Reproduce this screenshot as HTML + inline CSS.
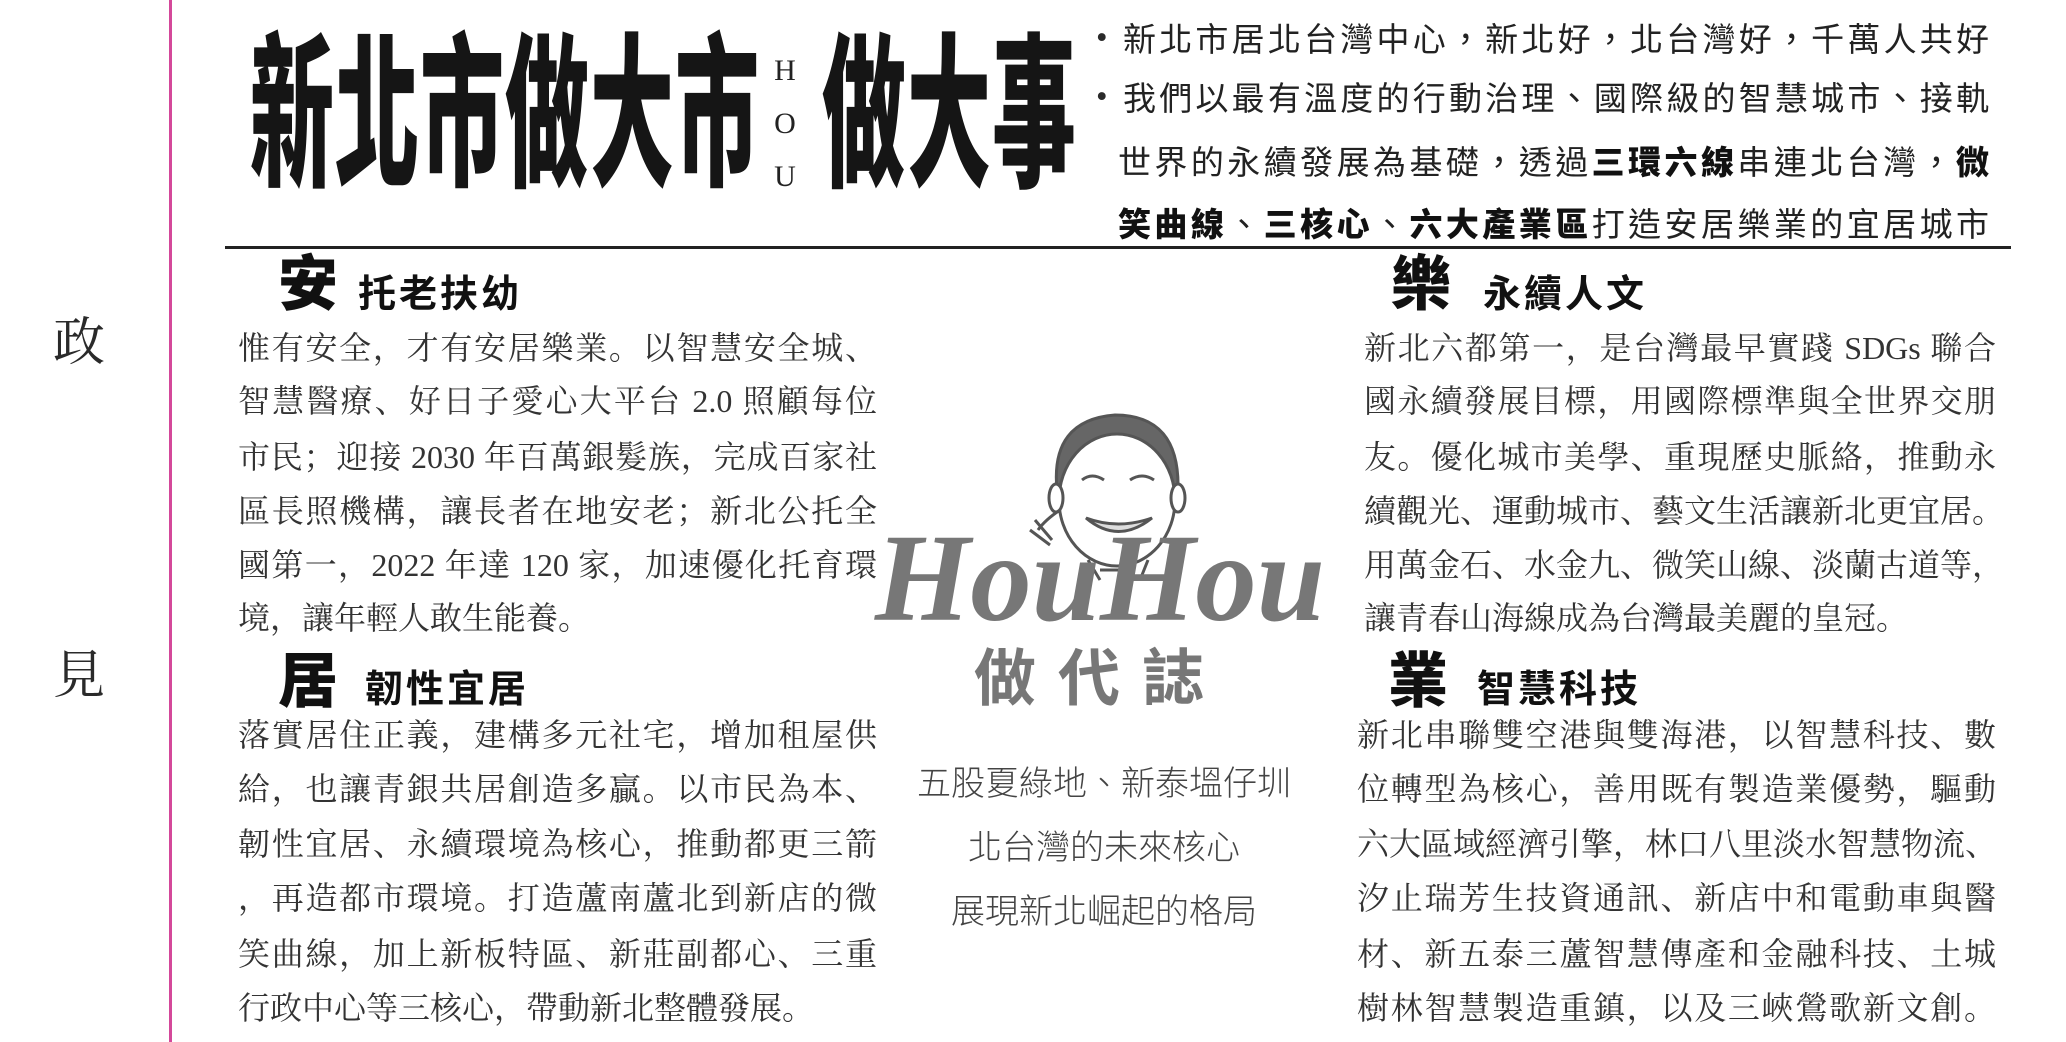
<!DOCTYPE html>
<html><head><meta charset="utf-8">
<style>
html,body{margin:0;padding:0;background:#fff;}
body{width:2066px;height:1042px;position:relative;overflow:hidden;font-family:"Liberation Serif","Noto Serif CJK SC",serif;color:#2a2a2a;}
.a{position:absolute;white-space:nowrap;}
.ln{position:absolute;font-size:32px;line-height:40px;text-align:justify;text-align-last:justify;white-space:nowrap;color:#333;}
.ln.last{text-align-last:left;}
.hd{position:absolute;font-family:"Liberation Sans","Noto Sans CJK TC",sans-serif;font-weight:900;color:#111;font-size:60px;line-height:60px;}
.sub{position:absolute;font-family:"Liberation Sans","Noto Sans CJK TC",sans-serif;font-weight:700;color:#111;font-size:38px;line-height:40px;letter-spacing:3px;}
.title{position:absolute;font-family:"Liberation Sans","Noto Sans CJK TC",sans-serif;font-weight:900;font-size:84px;line-height:84px;transform:scaleY(1.98);transform-origin:0 0;color:#151515;white-space:nowrap;}
.bl{position:absolute;font-size:33px;line-height:40px;text-align:justify;text-align-last:justify;white-space:nowrap;color:#222;font-family:"Liberation Sans","Noto Sans CJK TC",sans-serif;}
.bl b{font-weight:900;color:#111;}
.c{position:absolute;font-size:34px;line-height:40px;color:#444;text-align:center;width:500px;left:854px;font-family:"Liberation Sans","Noto Sans CJK TC",sans-serif;font-weight:300;}
</style></head><body>
<div class="a" style="left:169px;top:0;width:3px;height:1042px;background:#d4489a;"></div>
<div class="a" style="left:53px;top:300px;font-size:52px;">政</div>
<div class="a" style="left:53px;top:633px;font-size:52px;">見</div>

<div class="title" style="left:250px;top:33px;letter-spacing:1px;">新北市做大市</div>
<div class="a" style="left:772px;top:44px;width:26px;font-size:30px;line-height:53px;text-align:center;font-family:'Liberation Serif',serif;color:#222;">H<br>O<br>U</div>
<div class="title" style="left:822px;top:33px;letter-spacing:1px;">做大事</div>

<div class="a" style="left:1096px;top:20px;font-size:33px;">•</div>
<div class="bl" style="left:1123px;top:20px;width:866px;">新北市居北台灣中心，新北好，北台灣好，千萬人共好</div>
<div class="a" style="left:1096px;top:79px;font-size:33px;">•</div>
<div class="bl" style="left:1123px;top:79px;width:866px;">我們以最有溫度的行動治理、國際級的智慧城市、接軌</div>
<div class="bl" style="left:1118px;top:143px;width:871px;">世界的永續發展為基礎，透過<b>三環六線</b>串連北台灣，<b>微</b></div>
<div class="bl" style="left:1118px;top:205px;width:871px;"><b>笑曲線</b>、<b>三核心</b>、<b>六大產業區</b>打造安居樂業的宜居城市</div>

<div class="a" style="left:225px;top:246px;width:1786px;height:3px;background:#222;"></div>

<div class="hd" style="left:278px;top:255px;">安</div>
<div class="sub" style="left:358px;top:275px;">托老扶幼</div>
<div class="ln" style="left:238px;top:328px;width:639px;">惟有安全，才有安居樂業。以智慧安全城、</div>
<div class="ln" style="left:238px;top:381px;width:639px;">智慧醫療、好日子愛心大平台 2.0 照顧每位</div>
<div class="ln" style="left:238px;top:437px;width:639px;">市民；迎接 2030 年百萬銀髮族，完成百家社</div>
<div class="ln" style="left:238px;top:491px;width:639px;">區長照機構，讓長者在地安老；新北公托全</div>
<div class="ln" style="left:238px;top:545px;width:639px;">國第一，2022 年達 120 家，加速優化托育環</div>
<div class="ln last" style="left:238px;top:598px;width:639px;">境，讓年輕人敢生能養。</div>

<div class="hd" style="left:278px;top:652px;">居</div>
<div class="sub" style="left:365px;top:670px;">韌性宜居</div>
<div class="ln" style="left:238px;top:715px;width:639px;">落實居住正義，建構多元社宅，增加租屋供</div>
<div class="ln" style="left:238px;top:769px;width:639px;">給，也讓青銀共居創造多贏。以市民為本、</div>
<div class="ln" style="left:238px;top:824px;width:639px;">韌性宜居、永續環境為核心，推動都更三箭</div>
<div class="ln" style="left:238px;top:878px;width:639px;">，再造都市環境。打造蘆南蘆北到新店的微</div>
<div class="ln" style="left:238px;top:934px;width:639px;">笑曲線，加上新板特區、新莊副都心、三重</div>
<div class="ln last" style="left:238px;top:988px;width:639px;">行政中心等三核心，帶動新北整體發展。</div>

<div class="hd" style="left:1391px;top:255px;">樂</div>
<div class="sub" style="left:1483px;top:275px;">永續人文</div>
<div class="ln" style="left:1364px;top:328px;width:632px;">新北六都第一，是台灣最早實踐 SDGs 聯合</div>
<div class="ln" style="left:1364px;top:381px;width:632px;">國永續發展目標，用國際標準與全世界交朋</div>
<div class="ln" style="left:1364px;top:437px;width:632px;">友。優化城市美學、重現歷史脈絡，推動永</div>
<div class="ln" style="left:1364px;top:491px;width:632px;">續觀光、運動城市、藝文生活讓新北更宜居。</div>
<div class="ln" style="left:1364px;top:545px;width:632px;">用萬金石、水金九、微笑山線、淡蘭古道等，</div>
<div class="ln last" style="left:1364px;top:598px;width:632px;">讓青春山海線成為台灣最美麗的皇冠。</div>

<div class="hd" style="left:1388px;top:652px;">業</div>
<div class="sub" style="left:1477px;top:670px;">智慧科技</div>
<div class="ln" style="left:1357px;top:715px;width:639px;">新北串聯雙空港與雙海港，以智慧科技、數</div>
<div class="ln" style="left:1357px;top:769px;width:639px;">位轉型為核心，善用既有製造業優勢，驅動</div>
<div class="ln" style="left:1357px;top:824px;width:639px;">六大區域經濟引擎，林口八里淡水智慧物流、</div>
<div class="ln" style="left:1357px;top:878px;width:639px;">汐止瑞芳生技資通訊、新店中和電動車與醫</div>
<div class="ln" style="left:1357px;top:934px;width:639px;">材、新五泰三蘆智慧傳產和金融科技、土城</div>
<div class="ln" style="left:1357px;top:988px;width:639px;">樹林智慧製造重鎮，以及三峽鶯歌新文創。</div>

<svg class="a" style="left:860px;top:380px;" width="480" height="330" viewBox="0 0 480 330">
  <g fill="none" stroke="#555" stroke-width="3">
    <path d="M197 110 Q190 40 255 35 Q320 35 318 110 Z" fill="#666" stroke="#555"/>
    <ellipse cx="257" cy="120" rx="58" ry="66" fill="#fff"/>
    <ellipse cx="196" cy="118" rx="7" ry="14" fill="#fff"/>
    <ellipse cx="318" cy="118" rx="7" ry="14" fill="#fff"/>
    <path d="M222 100 Q232 92 244 100 M270 100 Q282 92 294 100" stroke-width="3"/>
    <path d="M226 138 Q258 165 292 138 Q258 150 226 138 Z" fill="#ddd" stroke-width="3"/>
    <path d="M200 130 Q185 140 178 150 M175 140 L192 160 M170 150 L190 165" stroke-width="3"/>
    <path d="M228 180 L240 200 M288 180 L280 200 M240 190 L275 190"/>
  </g>
  <text x="240" y="240" text-anchor="middle" font-family="Liberation Serif, serif" font-style="italic" font-weight="700" font-size="125" fill="#777" textLength="450" lengthAdjust="spacingAndGlyphs">HouHou</text>
  <text x="240" y="320" text-anchor="middle" font-family="Liberation Sans, Noto Sans CJK TC, sans-serif" font-weight="700" font-size="62" fill="#777" letter-spacing="22">做代誌</text>
</svg>
<div class="c" style="top:764px;">五股夏綠地、新泰塭仔圳</div>
<div class="c" style="top:828px;">北台灣的未來核心</div>
<div class="c" style="top:892px;">展現新北崛起的格局</div>
</body></html>
